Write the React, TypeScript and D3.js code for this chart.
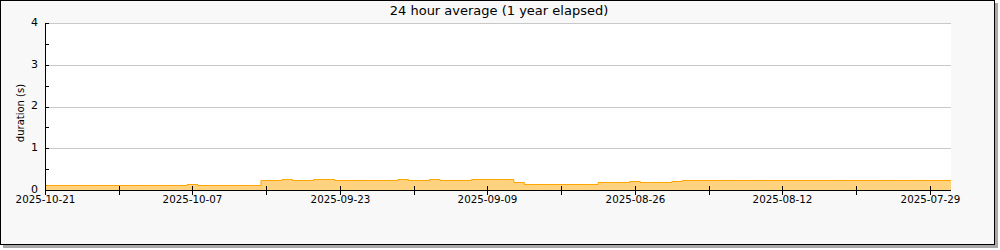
import React from "react";
import * as d3 from "d3";

const title = "24 hour average (1 year elapsed)";
const yLabel = "duration (s)";
const startDate = "2025-10-21";
const endDate = "2025-07-27";
const yTicks = [0, 1, 2, 3, 4];
const yMinorTicks = [0.5, 1.5, 2.5, 3.5];
const xTickLabels = ["2025-10-21", "2025-10-07", "2025-09-23", "2025-09-09", "2025-08-26", "2025-08-12", "2025-07-29"];
const xMinorTicks = ["2025-10-14", "2025-09-30", "2025-09-16", "2025-09-02", "2025-08-19", "2025-08-05"];
// daily 24h averages (seconds), day 0 = 2025-10-21 going back in time
const values = [
  0.12, 0.12, 0.12, 0.12, 0.12, 0.12, 0.12, 0.12, 0.12, 0.12, 0.12, 0.12, 0.12, 0.12,
  0.14,
  0.12, 0.12, 0.12, 0.12, 0.12, 0.12,
  0.24, 0.24, 0.26, 0.24, 0.24, 0.26, 0.26,
  0.24, 0.24, 0.24, 0.24, 0.24, 0.24,
  0.26, 0.24, 0.24, 0.26, 0.24, 0.24, 0.24,
  0.26, 0.26, 0.26, 0.26,
  0.2,
  0.14, 0.14, 0.14, 0.14, 0.14, 0.14, 0.14,
  0.19, 0.19, 0.19, 0.21, 0.19, 0.19, 0.19, 0.21,
  0.24, 0.24, 0.24, 0.24, 0.24, 0.24, 0.24, 0.24, 0.24, 0.24, 0.24, 0.24, 0.24,
  0.24, 0.24, 0.24, 0.24, 0.24, 0.24, 0.24, 0.24, 0.24, 0.24, 0.24, 0.24, 0.24,
];

const W = 1000;
const H = 250;
const plot = { left: 45, right: 951, top: 23, bottom: 190 };
const font = "'DejaVu Sans', sans-serif";

export default function App() {
  const parse = d3.utcParse("%Y-%m-%d");
  const start = parse(startDate)!;
  const x = d3.scaleUtc().domain([start, parse(endDate)!]).range([plot.left, plot.right]);
  const y = d3.scaleLinear().domain([0, 4]).range([plot.bottom, plot.top]);
  const data = values.map((v, i) => ({ date: d3.utcDay.offset(start, -i), v }));

  const area = d3.area<{ date: Date; v: number }>()
    .x((d) => x(d.date))
    .y0(y(0))
    .y1((d) => Math.round(y(d.v)))
    .curve(d3.curveStep);
  const line = d3.line<{ date: Date; v: number }>()
    .x((d) => x(d.date))
    .y((d) => Math.round(y(d.v)) + 0.5)
    .curve(d3.curveStep);

  const cr = (v: number) => Math.round(v) + 0.5;

  return (
    <svg width={W} height={H} style={{ position: "fixed", left: 0, top: 0 }} fontFamily={font}>
      <rect x={3} y={3} width={995} height={245} fill="#a8a8a8" />
      <rect x={0.5} y={0.5} width={994} height={244} fill="#f8f8f8" stroke="#000" />
      <rect x={plot.left} y={plot.top} width={plot.right - plot.left} height={plot.bottom - plot.top} fill="#fff" />
      {yTicks.map((t) => (
        <line key={t} x1={plot.left} x2={plot.right} y1={cr(y(t))} y2={cr(y(t))} stroke="#c8c8c8" />
      ))}
      <path d={area(data) || ""} fill="#ffd27f" />
      <path d={line(data) || ""} fill="none" stroke="#ffa500" strokeWidth={1} />
      <line x1={cr(plot.left)} x2={cr(plot.left)} y1={plot.top} y2={plot.bottom} stroke="#000" />
      <line x1={plot.left} x2={plot.right} y1={cr(plot.bottom)} y2={cr(plot.bottom)} stroke="#000" />
      {yTicks.map((t) => (
        <g key={"yt" + t}>
          <line x1={plot.left} x2={plot.left + 4} y1={cr(y(t))} y2={cr(y(t))} stroke="#000" />
          <text x={38} y={y(t) - 1} dy="0.36em" textAnchor="end" fontSize={11} fill="#000">{t}</text>
        </g>
      ))}
      {yMinorTicks.map((t) => (
        <line key={"ym" + t} x1={plot.left} x2={plot.left + 4} y1={cr(y(t))} y2={cr(y(t))} stroke="#000" />
      ))}
      {xTickLabels.map((l) => {
        const px = cr(x(parse(l)!));
        return (
          <g key={l}>
            <line x1={px} x2={px} y1={plot.bottom - 4} y2={plot.bottom + 5} stroke="#000" />
            <text x={px} y={202.5} textAnchor="middle" fontSize={10.3} fill="#000">{l}</text>
          </g>
        );
      })}
      {xMinorTicks.map((l) => {
        const px = cr(x(parse(l)!));
        return <line key={l} x1={px} x2={px} y1={plot.bottom - 4} y2={plot.bottom + 5} stroke="#000" />;
      })}
      <text x={499} y={15} textAnchor="middle" fontSize={13} fill="#000">{title}</text>
      <text transform={`translate(24,113) rotate(-90)`} textAnchor="middle" fontSize={10} fill="#000">{yLabel}</text>
    </svg>
  );
}
